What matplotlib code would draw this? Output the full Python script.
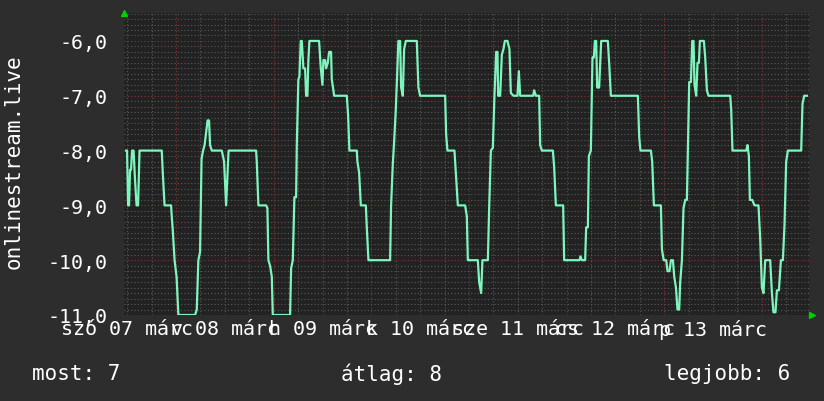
import matplotlib
matplotlib.use("Agg")
from matplotlib import pyplot as plt

# hours since sat 07 march 00:00, value of the series
hours = [
    11.70, 11.95, 12.20, 12.44, 12.69, 12.93, 13.18, 13.55, 13.92, 14.29, 14.66, 15.02,
    20.48, 20.73, 21.17, 22.77, 22.94, 23.19, 23.63, 24.12, 24.57, 28.67, 29.09, 29.48,
    29.90, 30.27, 30.64, 31.01, 31.75, 32.11, 32.36, 32.78, 35.24, 35.80, 36.30, 36.54,
    36.91, 43.67, 43.84, 44.24, 46.13, 46.45, 46.70, 47.11, 47.53, 47.78, 52.03, 52.28,
    52.70, 53.09, 53.51, 53.68, 54.07, 54.32, 54.66, 54.91, 55.30, 55.72, 55.97, 56.29,
    56.53, 56.78, 59.16, 59.58, 59.98, 60.22, 60.64, 60.89, 61.30, 61.62, 62.11, 62.28,
    62.68, 62.85, 65.97, 66.29, 66.61, 68.43, 68.58, 69.00, 69.42, 70.65, 70.89, 71.29,
    76.62, 76.86, 77.28, 77.60, 78.02, 78.27, 78.66, 79.08, 79.32, 79.74, 80.06, 80.48,
    83.18, 83.58, 83.99, 90.15, 90.39, 90.71, 92.44, 92.85, 93.27, 95.06, 95.48, 95.73,
    98.19, 98.51, 99.00, 99.32, 100.65, 100.97, 101.39, 101.88, 102.27, 102.69, 103.01, 103.18,
    103.67, 104.09, 104.48, 104.83, 105.47, 105.96, 106.30, 106.94, 107.93, 108.27, 108.59, 111.79,
    112.03, 112.45, 113.26, 113.51, 113.93, 116.63, 116.95, 117.37, 119.16, 119.41, 123.17, 123.42,
    123.76, 124.57, 124.82, 125.24, 125.48, 125.97, 126.37, 126.71, 126.96, 127.28, 127.52, 128.01,
    128.51, 130.15, 130.47, 130.89, 137.53, 137.85, 138.17, 140.73, 141.05, 141.47, 143.19, 143.44,
    143.88, 144.50, 144.82, 145.31, 145.66, 146.15, 146.47, 146.89, 147.27, 147.69, 147.94, 148.36,
    148.75, 149.17, 149.58, 149.83, 150.15, 150.57, 150.89, 151.21, 151.45, 151.87, 152.19, 152.53,
    152.78, 153.76, 154.08, 154.50, 154.89, 160.23, 160.47, 160.79, 164.16, 164.48, 164.82, 165.07,
    165.64, 166.20, 167.18, 167.60, 168.02, 168.41, 168.83, 170.06, 170.48, 170.87, 171.36, 171.71,
    172.20, 172.69, 173.18, 173.58, 173.99, 174.41, 177.68, 178.00, 178.42, 179.08,
]
values = [
    -8.0, -8.0, -9.0, -9.0, -8.35, -8.35, -8.0, -8.0, -8.55, -9.0, -9.0, -8.0,
    -8.0, -8.4, -9.0, -9.0, -9.2, -9.45, -10.0, -10.3, -11.0, -11.0, -10.9, -10.0,
    -9.85, -8.15, -8.0, -7.9, -7.45, -7.45, -7.9, -8.0, -8.0, -8.2, -9.0, -8.6,
    -8.0, -8.0, -8.2, -9.0, -9.0, -9.05, -10.0, -10.1, -10.3, -11.0, -11.0, -10.15,
    -10.0, -8.85, -8.85, -7.9, -6.7, -6.65, -6.0, -6.0, -6.5, -6.5, -7.0, -7.0,
    -6.35, -6.0, -6.0, -6.5, -6.8, -6.35, -6.35, -6.5, -6.4, -6.2, -6.2, -6.7,
    -6.9, -7.0, -7.0, -7.35, -8.0, -8.0, -8.2, -8.4, -9.0, -9.0, -9.4, -10.0,
    -10.0, -9.0, -8.25, -7.85, -7.25, -6.75, -6.0, -6.0, -6.85, -7.0, -6.15, -6.0,
    -6.0, -6.85, -7.0, -7.0, -7.7, -8.0, -8.0, -8.5, -9.0, -9.0, -9.2, -10.0,
    -10.0, -10.4, -10.6, -10.0, -10.0, -9.05, -8.0, -7.95, -7.0, -6.2, -6.2, -7.0,
    -7.0, -6.25, -6.15, -6.0, -6.0, -6.15, -6.95, -7.0, -7.0, -6.55, -7.0, -7.0,
    -6.9, -7.0, -7.0, -7.9, -8.0, -8.0, -8.3, -9.0, -9.0, -10.0, -10.0, -9.93,
    -10.0, -10.0, -9.4, -9.4, -8.1, -8.0, -6.3, -6.3, -6.0, -6.0, -6.85, -6.85,
    -6.0, -6.0, -6.4, -7.0, -7.0, -7.75, -8.0, -8.0, -8.2, -9.0, -9.0, -9.8,
    -10.0, -10.0, -10.2, -10.2, -10.0, -10.0, -10.3, -10.5, -10.9, -10.9, -10.4, -10.0,
    -9.05, -8.9, -8.9, -8.0, -6.75, -6.75, -6.0, -6.0, -6.8, -7.0, -6.4, -6.4,
    -6.0, -6.0, -6.3, -6.9, -7.0, -7.0, -7.25, -8.0, -8.0, -7.9, -8.1, -8.9,
    -8.9, -9.0, -9.0, -9.6, -10.5, -10.6, -10.0, -10.0, -10.6, -10.95, -10.95, -10.55,
    -10.55, -10.0, -10.0, -9.35, -8.2, -8.0, -8.0, -7.15, -7.0, -7.0,
]

day_labels = ["szó 07 márc", "v 08 márc", "h 09 márc", "k 10 márc",
              "sze 11 márc", "cs 12 márc", "p 13 márc"]
day_centers = [12, 36, 60, 84, 108, 132, 156]
y_ticks = [-6, -7, -8, -9, -10, -11]
y_labels = ["-6,0", "-7,0", "-8,0", "-9,0", "-10,0", "-11,0"]

bg = "#2d2d2d"
plot_bg = "#222222"
line_color = "#7df5bd"
mono = "DejaVu Sans Mono"

fig = plt.figure(figsize=(8.24, 4.02), dpi=100, facecolor=bg)
ax = fig.add_axes([124 / 824, 86 / 402, 685 / 824, 302 / 402])
ax.set_facecolor(plot_bg)
ax.set_xlim(11.2, 179.6)
ax.set_ylim(-11, -5.49)

# grid lines, rrdtool style
for k in range(1, 110):
    y = -11 + k * 0.1
    if abs(y - round(y)) < 1e-6:
        continue
    ax.axhline(y, color="#5a5a5a", lw=0.8, ls=(0, (1, 2)), zorder=1)
for h in range(12, 180, 6):
    if h % 24 == 0:
        continue
    ax.axvline(h, color="#5a5a5a", lw=0.8, ls=(0, (1, 2)), zorder=1)
for y in y_ticks:
    ax.axhline(y, color="#8a3434", lw=0.8, ls=(0, (1, 2)), zorder=2)
for h in range(24, 180, 24):
    ax.axvline(h, color="#8a3434", lw=0.8, ls=(0, (1, 2)), zorder=2)

ax.plot(hours, values, color=line_color, lw=1.6, zorder=3)

for s in ax.spines.values():
    s.set_visible(False)

ax.set_yticks(y_ticks)
ax.set_yticklabels(y_labels)
ax.set_xticks(day_centers)
ax.set_xticklabels(day_labels)
ax.tick_params(axis="both", length=0, colors="white", labelsize=14.4)
ax.tick_params(axis="y", pad=12)
ax.tick_params(axis="x", pad=3)
for t in ax.get_xticklabels() + ax.get_yticklabels():
    t.set_family(mono)

# little green arrows at the axis ends
ax.plot([11.2], [-5.49], marker="^", color="#00d000", ms=5, clip_on=False, zorder=5)
ax.plot([180.4], [-11], marker=">", color="#00d000", ms=5, clip_on=False, zorder=5)

fig.text(14 / 824, 1 - 162 / 402, "onlinestream.live", rotation=90, color="white",
         family=mono, fontsize=15, ha="center", va="center")
fig.text(32 / 824, 1 - 374 / 402, "most: 7", color="white", family=mono,
         fontsize=15, ha="left", va="center")
fig.text(341 / 824, 1 - 374 / 402, "átlag: 8", color="white", family=mono,
         fontsize=15, ha="left", va="center")
fig.text(790 / 824, 1 - 374 / 402, "legjobb: 6", color="white", family=mono,
         fontsize=15, ha="right", va="center")

fig.savefig("out.png", dpi=100, facecolor=bg)
